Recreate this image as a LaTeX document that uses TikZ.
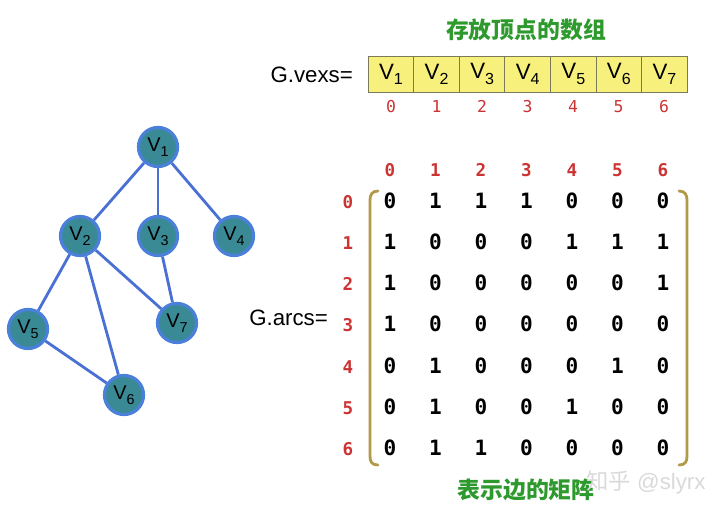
\documentclass[tikz,border=0pt]{standalone}
\usepackage{fontspec}
\setmainfont{Liberation Sans}
\newfontfamily\cjkfont{Noto Sans CJK SC}
\newfontfamily\digitfont{DejaVu Sans Mono}
\definecolor{vexfill}{HTML}{3A8A96}
\definecolor{vexline}{HTML}{4A80DA}
\definecolor{edgeblue}{HTML}{4A70D4}
\definecolor{cellyellow}{HTML}{F8F07C}
\definecolor{cellline}{HTML}{7A7A5A}
\definecolor{idxred}{HTML}{CC3333}
\definecolor{titlegreen}{HTML}{2E9A2E}
\definecolor{bracketgold}{HTML}{B29A48}
\newcommand{\vsub}[1]{V\raisebox{-0.45ex}{\scalebox{0.72}{#1}}}
\tikzset{
  vex/.style={circle, draw=vexline, fill=vexfill, line width=2.8pt,
    minimum size=1.17cm, inner sep=0pt, font=\fontsize{17}{17}\selectfont},
  cellbox/.style={draw=cellline, fill=cellyellow, line width=0.8pt,
    minimum width=1.367cm, minimum height=1.08cm, inner sep=0pt,
    font=\fontsize{19}{19}\selectfont},
  idx/.style={text=idxred, font=\digitfont\fontsize{14}{14}\selectfont,
    text height=1.4ex, text depth=0pt},
  headidx/.style={idx, font=\digitfont\bfseries\fontsize{15}{15}\selectfont},
  entry/.style={font=\digitfont\bfseries\fontsize{18}{18}\selectfont,
    text height=1.4ex, text depth=0pt},
  caption/.style={text=titlegreen, font=\cjkfont\bfseries\fontsize{19.5}{19.5}\selectfont},
  arraylabel/.style={font=\fontsize{19}{19}\selectfont, anchor=east}
}
\begin{document}
\begin{tikzpicture}[x=0.03cm, y=-0.03cm]
  \useasboundingbox (0,0) rectangle (720,516);

  % 图的顶点
  \node[vex] (v1) at (158,147) {\vsub{1}};
  \node[vex] (v2) at (80,236) {\vsub{2}};
  \node[vex] (v3) at (158,236) {\vsub{3}};
  \node[vex] (v4) at (234,236) {\vsub{4}};
  \node[vex] (v5) at (28,329) {\vsub{5}};
  \node[vex] (v7) at (177,323) {\vsub{7}};
  \node[vex] (v6) at (124,395) {\vsub{6}};

  % 图的边
  \begin{scope}[draw=edgeblue, line width=2.4pt]
    \draw (v1) -- (v2);
    \draw (v1) -- (v3);
    \draw (v1) -- (v4);
    \draw (v2) -- (v5);
    \draw (v2) -- (v6);
    \draw (v2) -- (v7);
    \draw (v3) -- (v7);
    \draw (v5) -- (v6);
  \end{scope}

  % 顶点数组
  \node[caption] (vtitle) at (526,30) {存放顶点的数组};
  \node[arraylabel] (vexs) at (357,75) {G.vexs=};
  \foreach \i in {0,...,6} {
    \pgfmathtruncatemacro{\k}{\i+1}
    \node[cellbox] (cell\i) at (391+45.57*\i,74) {\vsub{\k}};
    \node[idx] (vi\i) at (391+45.5*\i,108) {\i};
  }

  % 邻接矩阵
  \node[arraylabel] (arcs) at (332,318) {G.arcs=};
  \foreach \c in {0,...,6}
    \node[headidx] (col\c) at (390+45.5*\c,172) {\c};
  \foreach \r/\row in {0/{0,1,1,1,0,0,0}, 1/{1,0,0,0,1,1,1}, 2/{1,0,0,0,0,0,1},
      3/{1,0,0,0,0,0,0}, 4/{0,1,0,0,0,1,0}, 5/{0,1,0,0,1,0,0}, 6/{0,1,1,0,0,0,0}} {
    \node[headidx] (row\r) at (348,204+41.2*\r) {\r};
    \foreach \v [count=\c from 0] in \row
      \node[entry] (m\r\c) at (390+45.5*\c,204+41.2*\r) {\v};
  }

  % 矩阵括号
  \draw[bracketgold, line width=2.4pt, line cap=round]
    (378,191) .. controls (372,191) and (370,195) .. (370,200) -- (370,456)
    .. controls (370,462) and (372,465) .. (378,465);
  \draw[bracketgold, line width=2.4pt, line cap=round]
    (679,191) .. controls (685,191) and (687,195) .. (687,200) -- (687,456)
    .. controls (687,462) and (685,465) .. (679,465);

  \node[caption] (atitle) at (526,490) {表示边的矩阵};
  \node[text=black!15, font=\fontsize{19}{19}\selectfont] (mark) at (646,482) {{\cjkfont 知乎} @slyrx};
\end{tikzpicture}
\end{document}
